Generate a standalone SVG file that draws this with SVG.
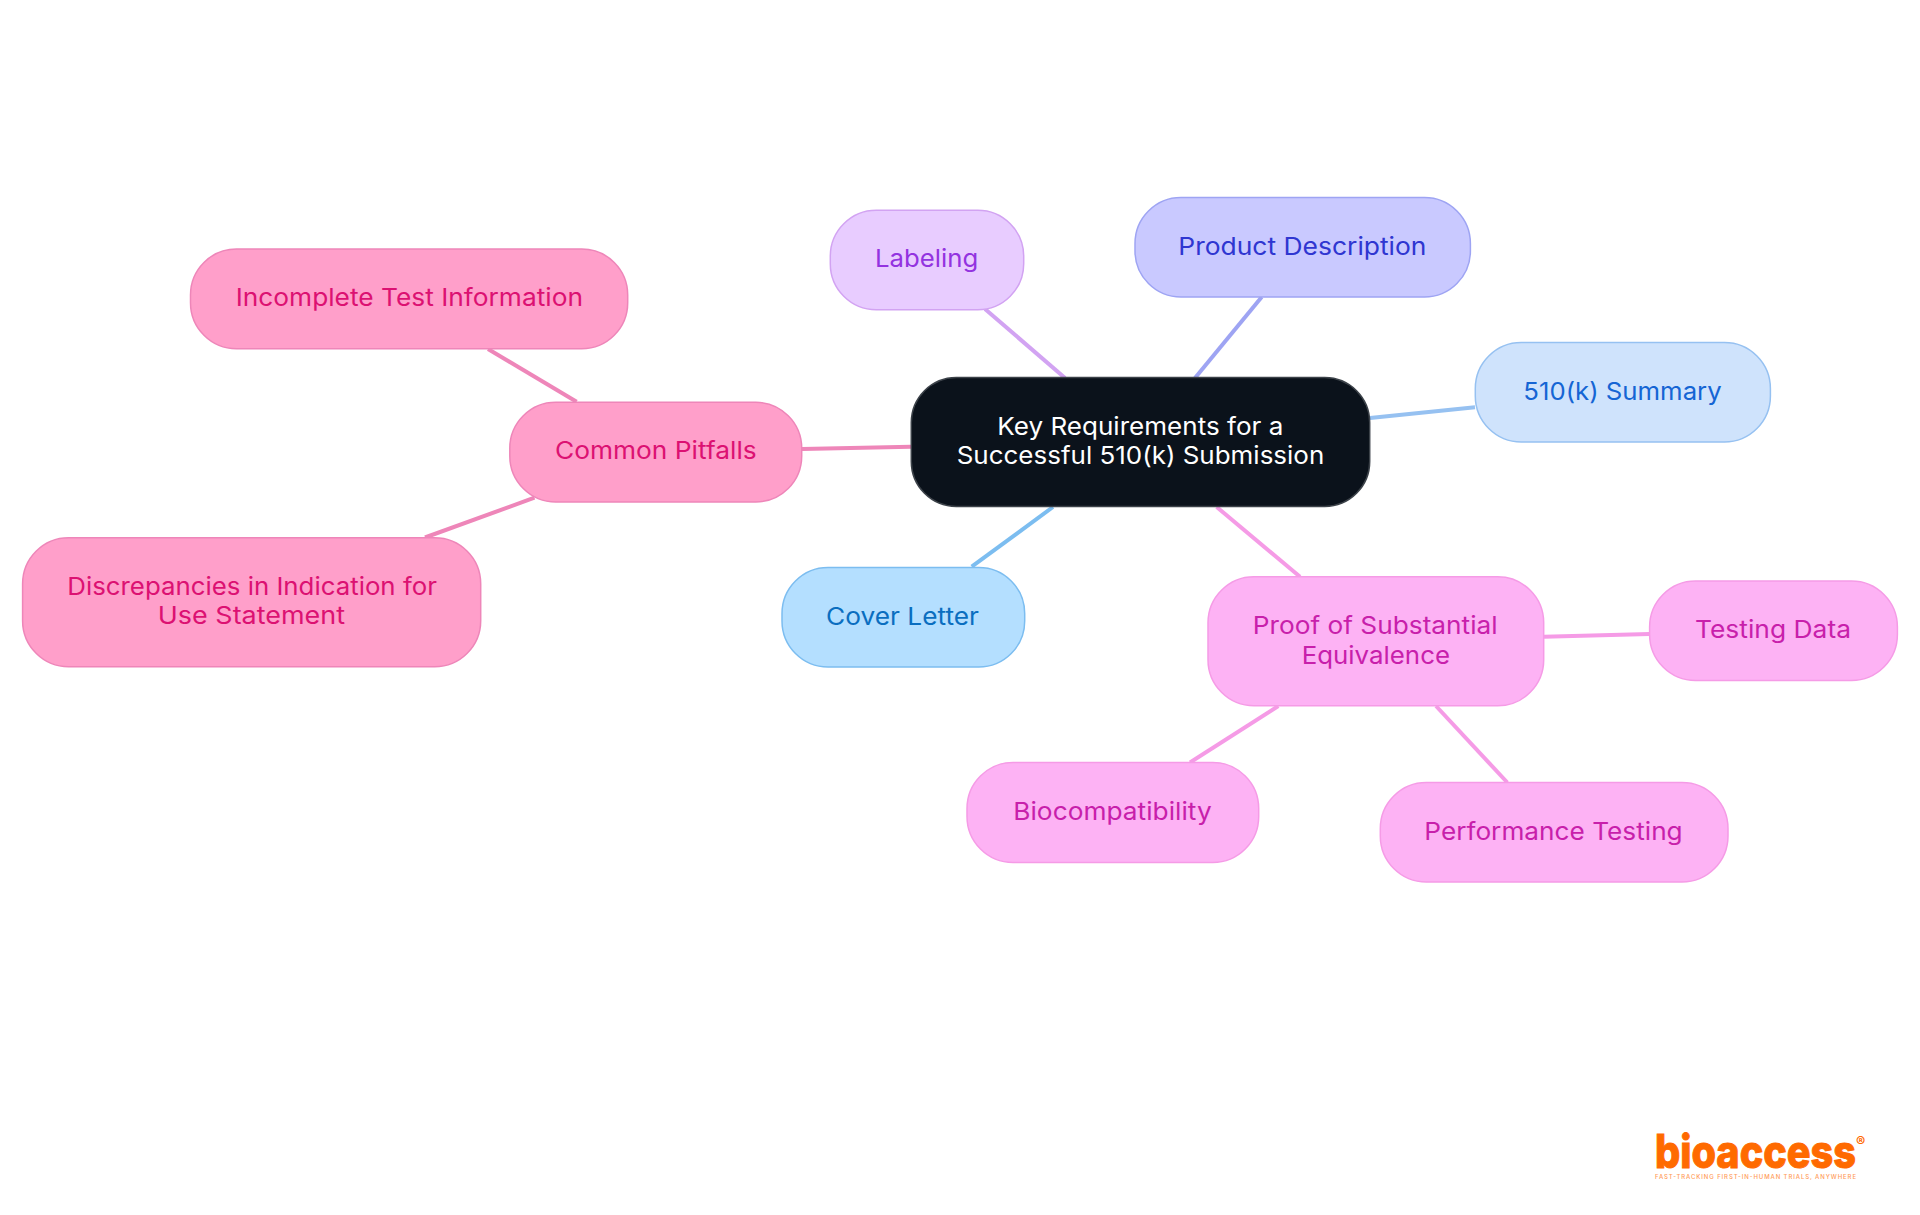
<svg xmlns="http://www.w3.org/2000/svg" width="1920" height="1215" viewBox="0 0 1920 1215">
<style>
text{font-family:"Inter","Noto Sans","Liberation Sans",sans-serif;font-size:24.5px;font-weight:400;text-anchor:start}
.n{stroke-width:1.5}
.e{stroke-width:4;fill:none}
.c0{fill:#0b121b;stroke:#3c4249}.c0t{fill:#ffffff}
.lab{fill:#e8ccff;stroke:#d2a3f2}.labt{fill:#9333e0}
.pro{fill:#c9c9ff;stroke:#9ea4f3}.prot{fill:#2f36d1}
.sum{fill:#cfe3fc;stroke:#96c1f1}.sumt{fill:#1565d4}
.cov{fill:#b4dfff;stroke:#7cbdf0}.covt{fill:#0a6ec0}
.prf{fill:#fdb2f4;stroke:#f59be6}.prft{fill:#c81fab}
.pit{fill:#ff9fca;stroke:#ee86b9}.pitt{fill:#dc1172}
.logo{fill:#ff6a00}
</style>
<rect width="1920" height="1215" fill="#ffffff"/>
<g id="connectors">
<line class="e" stroke="#d2a3f2" x1="985" y1="309" x2="1065" y2="378"/>
<line class="e" stroke="#9ea4f3" x1="1261.7" y1="297" x2="1195" y2="378"/>
<line class="e" stroke="#96c1f1" x1="1370" y1="418" x2="1475" y2="407.3"/>
<line class="e" stroke="#7cbdf0" x1="1053" y1="507" x2="971.7" y2="566.7"/>
<line class="e" stroke="#f59be6" x1="1216.7" y1="507" x2="1300" y2="576.7"/>
<line class="e" stroke="#f59be6" x1="1544" y1="636.7" x2="1649.5" y2="634"/>
<line class="e" stroke="#f59be6" x1="1278.3" y1="706" x2="1190" y2="762.5"/>
<line class="e" stroke="#f59be6" x1="1436" y1="706" x2="1507.3" y2="782.5"/>
<line class="e" stroke="#ee86b9" x1="802" y1="449" x2="911" y2="446.7"/>
<line class="e" stroke="#ee86b9" x1="488" y1="349" x2="576.6" y2="401.7"/>
<line class="e" stroke="#ee86b9" x1="534.5" y1="497.7" x2="425" y2="537.5"/>
</g>
<g id="node-root">
<rect class="n c0" x="911.3" y="377.6" width="458.4" height="128.8" rx="45"/>
<text class="c0t" x="997.3" y="435" textLength="286" lengthAdjust="spacingAndGlyphs">Key Requirements for a</text>
<text class="c0t" x="956.7" y="464" textLength="367.6" lengthAdjust="spacingAndGlyphs">Successful 510(k) Submission</text>
</g>
<g id="node-labeling">
<rect class="n lab" x="830.3" y="210.3" width="193.4" height="99.4" rx="46"/>
<text class="labt" x="875" y="267" textLength="103.3" lengthAdjust="spacingAndGlyphs">Labeling</text>
</g>
<g id="node-product">
<rect class="n pro" x="1135" y="197.6" width="335.4" height="99.4" rx="46"/>
<text class="prot" x="1178.3" y="255" textLength="248.2" lengthAdjust="spacingAndGlyphs">Product Description</text>
</g>
<g id="node-summary">
<rect class="n sum" x="1475.3" y="342.6" width="295.1" height="99.4" rx="46"/>
<text class="sumt" x="1523.3" y="400" textLength="198.4" lengthAdjust="spacingAndGlyphs">510(k) Summary</text>
</g>
<g id="node-cover">
<rect class="n cov" x="782" y="567.6" width="242.7" height="99.4" rx="46"/>
<text class="covt" x="826" y="625" textLength="153" lengthAdjust="spacingAndGlyphs">Cover Letter</text>
</g>
<g id="node-proof">
<rect class="n prf" x="1208" y="576.8" width="335.7" height="129" rx="46"/>
<text class="prft" x="1252.7" y="633.8" textLength="245" lengthAdjust="spacingAndGlyphs">Proof of Substantial</text>
<text class="prft" x="1301.7" y="663.5" textLength="148.3" lengthAdjust="spacingAndGlyphs">Equivalence</text>
</g>
<g id="node-testing">
<rect class="n prf" x="1649.6" y="581" width="247.8" height="99.4" rx="46"/>
<text class="prft" x="1695" y="637.7" textLength="156" lengthAdjust="spacingAndGlyphs">Testing Data</text>
</g>
<g id="node-biocompatibility">
<rect class="n prf" x="967" y="762.6" width="291.7" height="99.8" rx="46"/>
<text class="prft" x="1013.3" y="820" textLength="198.4" lengthAdjust="spacingAndGlyphs">Biocompatibility</text>
</g>
<g id="node-performance">
<rect class="n prf" x="1380.3" y="782.6" width="347.7" height="99.4" rx="46"/>
<text class="prft" x="1424.3" y="840" textLength="258.4" lengthAdjust="spacingAndGlyphs">Performance Testing</text>
</g>
<g id="node-pitfalls">
<rect class="n pit" x="509.8" y="402.3" width="291.9" height="99.7" rx="46"/>
<text class="pitt" x="555" y="459" textLength="201.7" lengthAdjust="spacingAndGlyphs">Common Pitfalls</text>
</g>
<g id="node-incomplete">
<rect class="n pit" x="190.5" y="249" width="437.2" height="99.7" rx="46"/>
<text class="pitt" x="235.7" y="306" textLength="347.3" lengthAdjust="spacingAndGlyphs">Incomplete Test Information</text>
</g>
<g id="node-discrepancies">
<rect class="n pit" x="22.6" y="537.8" width="458.1" height="129" rx="46"/>
<text class="pitt" x="67.3" y="595" textLength="369.6" lengthAdjust="spacingAndGlyphs">Discrepancies in Indication for</text>
<text class="pitt" x="157.8" y="624" textLength="187.2" lengthAdjust="spacingAndGlyphs">Use Statement</text>
</g>
<g id="logo">
<text class="logo" x="1655" y="1168" textLength="201" lengthAdjust="spacingAndGlyphs" style="font-size:46px;font-weight:800;stroke:#ff6a00;stroke-width:1">bioaccess</text>
<text class="logo" x="1856" y="1147" style="font-size:14px;font-weight:700">®</text>
<text x="1655" y="1179" textLength="201" lengthAdjust="spacing" style="font-size:6px;font-weight:500;fill:#ff9c59">FAST-TRACKING FIRST-IN-HUMAN TRIALS, ANYWHERE</text>
</g>
</svg>
